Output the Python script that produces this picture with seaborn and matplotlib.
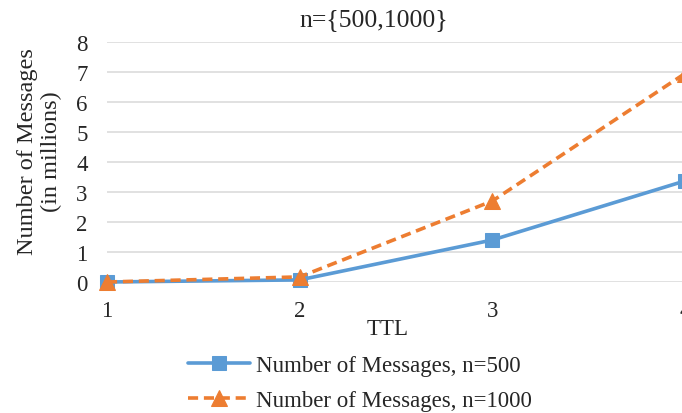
import matplotlib
matplotlib.use("Agg")
import matplotlib.pyplot as plt
import seaborn as sns
import pandas as pd

ttl = [1, 2, 3, 4]
msgs_500 = [0.0, 0.07, 1.4, 3.37]
msgs_1000 = [0.0, 0.17, 2.7, 6.95]
label_500 = "Number of Messages, n=500"
label_1000 = "Number of Messages, n=1000"
title = "n={500,1000}"
xlabel = "TTL"
ylabel = "Number of Messages\n(in millions)"

sns.set_theme(style="white")
plt.rcParams['font.family'] = ['Liberation Serif', 'DejaVu Serif']

blue = "#5b9bd5"
orange = "#ed7d31"
FS = 16.5

fig = plt.figure(figsize=(6.82, 4.14), dpi=100)
# x=1 at px 107, x=4 at px 685 (at the right edge, as in reference); y=0 at px 283, y=8 at px 43
X0, X1 = 107, 685
ax = fig.add_axes([X0 / 682, 1 - 283 / 414, (X1 - X0) / 682, 240 / 414])

df1 = pd.DataFrame({"TTL": ttl, "v": msgs_500})
df2 = pd.DataFrame({"TTL": ttl, "v": msgs_1000})
sns.lineplot(data=df1, x="TTL", y="v", ax=ax, color=blue, linewidth=2.6,
             marker="s", markersize=10, markeredgecolor=blue, label=label_500,
             clip_on=False, zorder=3)
sns.lineplot(data=df2, x="TTL", y="v", ax=ax, color=orange, linewidth=2.6,
             marker="^", markersize=11, markeredgecolor=orange, label=label_1000,
             clip_on=False, zorder=4)
ax.lines[1].set_dashes([2.8, 1.6])

ax.set_xlim(1, 4)
ax.set_ylim(0, 8)
ax.set_xticks(ttl)
ax.set_yticks(range(0, 9))
ax.tick_params(axis='both', labelsize=FS, length=0)
ax.tick_params(axis='x', pad=13)
ax.tick_params(axis='y', pad=14)
ax.yaxis.grid(True, color="#d9d9d9", linewidth=1.1)
ax.xaxis.grid(False)
for s in ax.spines.values():
    s.set_visible(False)

W = X1 - X0
ax.set_title(title, fontsize=18.5, x=(374 - X0) / W, y=1.0, pad=12)
ax.set_xlabel(xlabel, fontsize=FS)
ax.xaxis.set_label_coords((388 - X0) / W, (283 - 319) / 240)
ax.set_ylabel(ylabel, fontsize=FS + 1, linespacing=1.15)
ax.yaxis.set_label_coords((62 - X0) / W, (283 - 152) / 240)

ax.get_legend().remove()
h, l = ax.get_legend_handles_labels()
fig.legend(h, l, loc="center left", bbox_to_anchor=(188 / 682, 1 - 384 / 414),
           frameon=False, fontsize=FS, handlelength=2.7, handletextpad=0.25,
           labelspacing=0.65, borderaxespad=0, borderpad=0)

fig.savefig("out.png", dpi=100)
